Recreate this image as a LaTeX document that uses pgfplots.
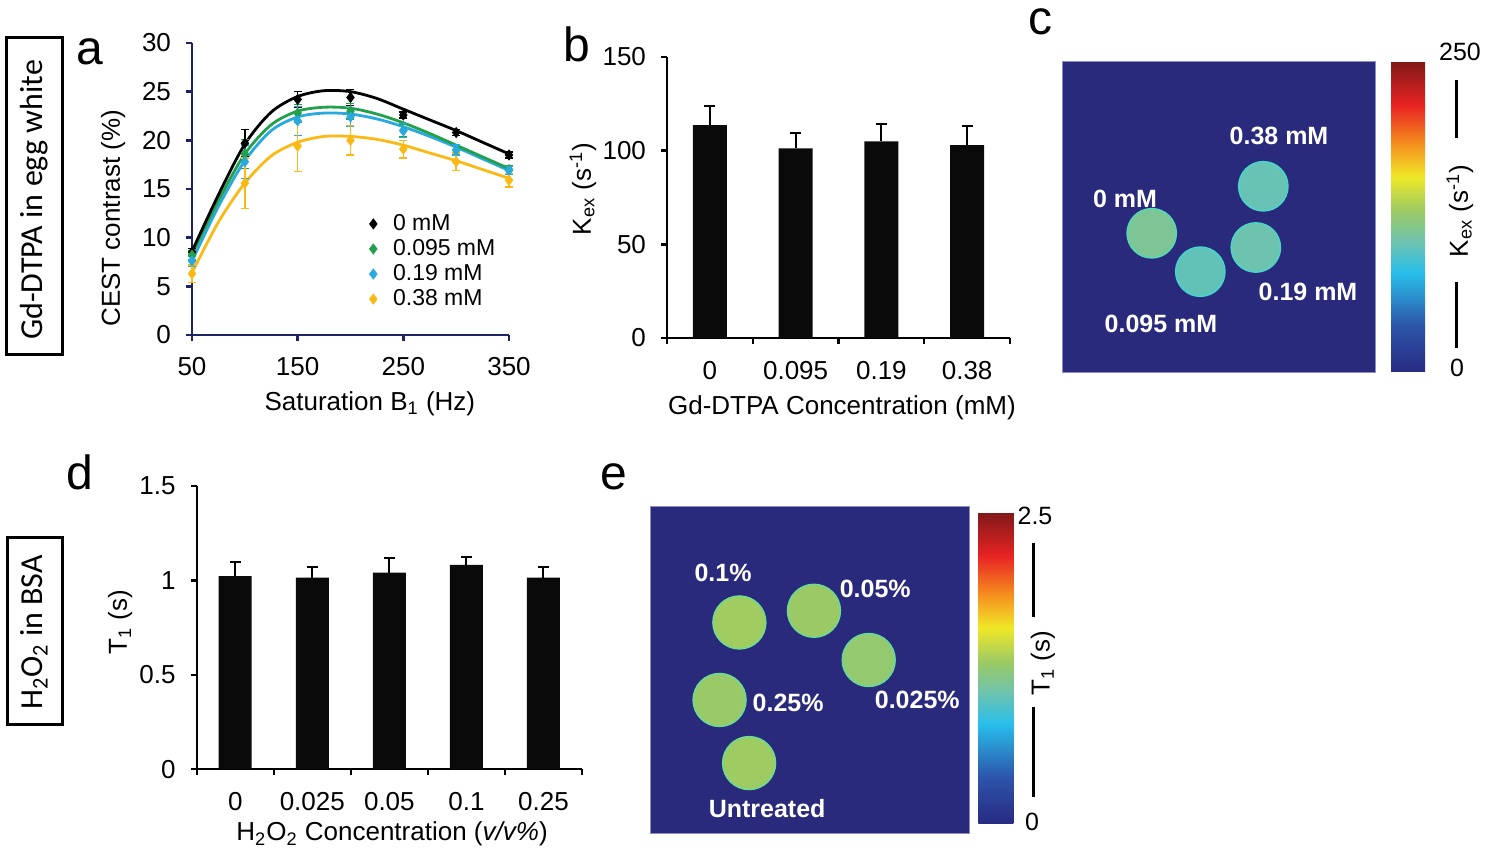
\documentclass[border=0pt]{standalone}
\usepackage{fontspec}
\setmainfont{Liberation Sans}
\newfontfamily\sidefont{Carlito}
\usepackage{pgfplots}
\pgfplotsset{compat=1.18}

\definecolor{navy}{RGB}{30,35,100}
\definecolor{cgreen}{RGB}{35,160,75}
\definecolor{cblue}{RGB}{40,170,225}
\definecolor{cyell}{RGB}{250,185,20}
\definecolor{imgbg}{RGB}{42,42,124}
\definecolor{imgedge}{RGB}{140,140,200}
\definecolor{barblk}{RGB}{10,10,10}

\newcommand\fs{\fontsize{13}{15}\selectfont}

\pgfplotsset{
  colormap={kex}{rgb255(0cm)=(40,42,130) rgb255(15cm)=(45,85,170) rgb255(32cm)=(40,190,235)
    rgb255(42cm)=(110,195,175) rgb255(52cm)=(155,202,100) rgb255(63cm)=(240,232,40)
    rgb255(74cm)=(245,140,30) rgb255(86cm)=(232,35,35) rgb255(100cm)=(130,25,25)},
  panel/.style={
    scale only axis, anchor=south west, enlargelimits=false, clip=false,
    axis lines=left, axis line style={-, line width=1.2pt},
    tick align=outside, major tick length=3pt,
    tick style={line width=1.2pt, black},
    tick label style={font=\fs},
    yticklabel style={xshift=-4pt},
    label style={font=\fs},
    /pgf/number format/assume math mode=true,
  },
  imgpanel/.style={
    scale only axis, anchor=south west, enlargelimits=false,
    axis background/.style={fill=imgbg},
    axis line style={draw=imgedge, line width=0.5pt},
    ticks=none, colormap name=kex,
  },
  barerr/.style={error bars/.cd, y dir=plus, y explicit,
    error bar style={draw=black, line width=1pt},
    error mark options={rotate=90, draw=black, line width=1pt, mark size=2.8pt}},
  pterr/.style={only marks, mark=diamond*, mark size=2.5pt, #1,
    error bars/.cd, y dir=both, y explicit,
    error bar style={#1, line width=0.7pt},
    error mark options={rotate=90, #1, line width=0.7pt, mark size=2pt}},
}

\begin{document}
\begin{tikzpicture}
\path[use as bounding box] (0,0) rectangle (744pt,428pt);

% side labels
\draw[line width=1.5pt] (3pt,409pt) rectangle (31pt,250.5pt);
\node[rotate=90, font=\sidefont\fontsize{16}{18}\selectfont] at (17pt,328pt) {Gd-DTPA in egg white};
\draw[line width=1.5pt] (3.5pt,159pt) rectangle (31pt,65.5pt);
\node[rotate=90, font=\sidefont\fontsize{16}{18}\selectfont] at (17pt,111.75pt) {H\textsubscript{2}O\textsubscript{2} in BSA};

% panel letters
\node[anchor=base west, inner sep=0, font=\fontsize{24}{24}\selectfont] at (38pt,395.5pt) {a};
\node[anchor=base west, inner sep=0, font=\fontsize{24}{24}\selectfont] at (281.5pt,397pt) {b};
\node[anchor=base west, inner sep=0, font=\fontsize{24}{24}\selectfont] at (514pt,410.5pt) {c};
\node[anchor=base west, inner sep=0, font=\fontsize{24}{24}\selectfont] at (33pt,183pt) {d};
\node[anchor=base west, inner sep=0, font=\fontsize{24}{24}\selectfont] at (300pt,183pt) {e};

% ---------- a ----------
\begin{axis}[panel, at={(96pt,260.5pt)}, width=158.5pt, height=146pt,
  xmin=50, xmax=350, ymin=0, ymax=30,
  xtick={50,150,250,350}, ytick={0,5,...,30},
  axis line style={-, line width=1.3pt, navy}, tick style={navy, line width=1.3pt},
  xticklabel style={yshift=-4.5pt},
  xlabel={Saturation B\textsubscript{1} (Hz)}, ylabel={CEST contrast (\%)},
  xlabel style={at={(axis description cs:0.561,-0.236)}, anchor=center},
  ylabel style={at={(axis description cs:-0.249,0.40)}, anchor=center},
  legend style={draw=none, fill=none, at={(axis description cs:0.54,0.435)}, anchor=north west,
    font=\fontsize{11.5}{13}\selectfont, row sep=1pt, nodes={inner ysep=1pt},
    /tikz/every odd column/.append style={column sep=6pt}},
  legend cell align=left,
  legend image code/.code={\draw[#1] plot coordinates {(0pt,0pt)};},
]
\addplot[cyell, line width=1.4pt, smooth, forget plot] coordinates {(50,6.4)(75,11.6)(100,15.6)(125,18.4)(150,19.8)(175,20.4)(200,20.4)(225,20.1)(250,19.5)(275,18.7)(300,17.9)(325,17.0)(350,16.1)};
\addplot[cblue, line width=1.4pt, smooth, forget plot] coordinates {(50,7.6)(75,13.2)(100,17.9)(125,21.0)(150,22.4)(175,22.8)(200,22.7)(225,22.2)(250,21.4)(275,20.4)(300,19.3)(325,18.1)(350,16.9)};
\addplot[cgreen, line width=1.4pt, smooth, forget plot] coordinates {(50,8.3)(75,13.8)(100,18.6)(125,21.6)(150,23.0)(175,23.4)(200,23.3)(225,22.7)(250,21.8)(275,20.7)(300,19.5)(325,18.3)(350,17.1)};
\addplot[black, line width=1.4pt, smooth, forget plot] coordinates {(50,8.6)(75,14.4)(100,19.6)(125,22.9)(150,24.5)(175,25.1)(200,25.0)(225,24.3)(250,23.2)(275,22.1)(300,21.0)(325,19.8)(350,18.6)};
\addplot[pterr=black] coordinates {(50,8.5) +- (0,0.4) (100,19.7) +- (0,1.4) (150,24.2) +- (0,0.8) (200,24.4) +- (0,0.8) (250,22.6) +- (0,0.3) (300,20.8) +- (0,0.3) (350,18.5) +- (0,0.3)};
\addplot[pterr=cgreen] coordinates {(50,8.2) +- (0,0.5) (100,18.6) +- (0,1.5) (150,22.8) +- (0,0.9) (200,23.0) +- (0,0.8) (250,21.0) +- (0,0.6) (300,19.0) +- (0,0.5) (350,17.0) +- (0,0.4)};
\addplot[pterr=cblue] coordinates {(50,7.6) +- (0,0.5) (100,17.8) +- (0,1.7) (150,22.0) +- (0,1.5) (200,22.4) +- (0,1.0) (250,21.0) +- (0,0.7) (300,19.0) +- (0,0.5) (350,16.9) +- (0,0.4)};
\addplot[pterr=cyell] coordinates {(50,6.3) +- (0,0.9) (100,15.6) +- (0,2.6) (150,19.4) +- (0,2.6) (200,20.0) +- (0,1.5) (250,19.1) +- (0,0.9) (300,17.8) +- (0,0.9) (350,15.9) +- (0,0.7)};
\legend{0 mM, 0.095 mM, 0.19 mM, 0.38 mM}
\end{axis}

% ---------- b ----------
\begin{axis}[panel, at={(333.5pt,259pt)}, width=171.5pt, height=140.5pt,
  xmin=0, xmax=4, ymin=0, ymax=150, ytick={0,50,100,150},
  xtick={0,1,2,3,4}, xticklabels={},
  extra x ticks={0.5,1.5,2.5,3.5}, extra x tick labels={0,0.095,0.19,0.38},
  extra x tick style={major tick length=0pt},
  xticklabel style={yshift=-8pt},
  xlabel={Gd-DTPA Concentration (mM)}, ylabel={K\textsubscript{ex} (s\textsuperscript{-1})},
  xlabel style={at={(axis description cs:0.510,-0.249)}, anchor=center},
  ylabel style={at={(axis description cs:-0.245,0.530)}, anchor=center},
]
\addplot[ybar, bar width=17pt, fill=barblk, draw=none, barerr] coordinates {(0.5,113.6) +- (0,10.3) (1.5,101.2) +- (0,8.3) (2.5,104.9) +- (0,9.4) (3.5,103.0) +- (0,10.3)};
\end{axis}

% ---------- c ----------
\begin{axis}[imgpanel, at={(531pt,241.5pt)}, width=156.5pt, height=155.5pt,
  xmin=0, xmax=313, ymin=0, ymax=311,
  point meta min=0, point meta max=250,
  colorbar, colorbar/width=17pt,
  colorbar style={at={(parent axis.north east)}, anchor=north west, xshift=-0.5pt,
    height=155pt, scale only axis, ytick=\empty, xtick=\empty, axis line style={draw=none}},
]
\addplot[scatter, only marks, mark=*, mark size=12.3pt, point meta=explicit,
  scatter/use mapped color={draw=mapped color!70!cyan, fill=mapped color, line width=0.8pt}]
  coordinates {(89.7,139.7) [113.6] (138.3,101.3) [101.2] (193.8,125.5) [104.9] (201.3,186.7) [103.0]};
\node[text=white, font=\fontsize{12.5}{14}\selectfont\bfseries] at (axis cs:63,174) {0 mM};
\node[text=white, font=\fontsize{12.5}{14}\selectfont\bfseries] at (axis cs:217,237) {0.38 mM};
\node[text=white, font=\fontsize{12.5}{14}\selectfont\bfseries] at (axis cs:246,81) {0.19 mM};
\node[text=white, font=\fontsize{12.5}{14}\selectfont\bfseries] at (axis cs:99,49) {0.095 mM};
\end{axis}
\node[font=\fontsize{12.5}{14}\selectfont] at (730pt,402pt) {250};
\node[font=\fontsize{12.5}{14}\selectfont] at (728.5pt,244pt) {0};
\draw[line width=1.5pt] (728.35pt,388pt) -- (728.35pt,359pt);
\draw[line width=1.5pt] (728.35pt,287pt) -- (728.35pt,254pt);
\node[rotate=90, font=\fs] at (730pt,322.5pt) {K\textsubscript{ex} (s\textsuperscript{-1})};

% ---------- d ----------
\begin{axis}[panel, at={(98.35pt,43.35pt)}, width=192.65pt, height=141.65pt,
  xmin=0, xmax=5, ymin=0, ymax=1.5, ytick={0,0.5,1,1.5},
  xtick={0,1,2,3,4,5}, xticklabels={},
  extra x ticks={0.5,1.5,2.5,3.5,4.5}, extra x tick labels={0,0.025,0.05,0.1,0.25},
  extra x tick style={major tick length=0pt},
  xticklabel style={yshift=-8pt},
  xlabel={H\textsubscript{2}O\textsubscript{2} Concentration (\textit{v/v\%})}, ylabel={T\textsubscript{1} (s)},
  xlabel style={at={(axis description cs:0.507,-0.228)}, anchor=center},
  ylabel style={at={(axis description cs:-0.199,0.52)}, anchor=center},
]
\addplot[ybar, bar width=16.5pt, fill=barblk, draw=none, barerr] coordinates {(0.5,1.023) +- (0,0.076) (1.5,1.015) +- (0,0.054) (2.5,1.041) +- (0,0.076) (3.5,1.082) +- (0,0.044) (4.5,1.015) +- (0,0.054)};
\end{axis}

% ---------- e ----------
\begin{axis}[imgpanel, at={(325pt,11.35pt)}, width=159.65pt, height=163.3pt,
  xmin=0, xmax=319, ymin=0, ymax=327,
  point meta min=0, point meta max=2.5,
  colorbar, colorbar/width=17.5pt,
  colorbar style={at={(parent axis.north east)}, anchor=north west, xshift=-4pt, yshift=-3pt,
    height=155.5pt, scale only axis, ytick=\empty, xtick=\empty, axis line style={draw=none}},
]
\addplot[scatter, only marks, mark=*, mark size=13.2pt, point meta=explicit,
  scatter/use mapped color={draw=mapped color!70!cyan, fill=mapped color, line width=0.8pt}]
  coordinates {(89.3,211.1) [1.32] (163.8,222.8) [1.30] (218.5,173.5) [1.26] (69.5,133.5) [1.29] (99,70.3) [1.31]};
\node[text=white, font=\fontsize{12.5}{14}\selectfont\bfseries] at (axis cs:73,261) {0.1\%};
\node[text=white, font=\fontsize{12.5}{14}\selectfont\bfseries] at (axis cs:225,245) {0.05\%};
\node[text=white, font=\fontsize{12.5}{14}\selectfont\bfseries] at (axis cs:267,134) {0.025\%};
\node[text=white, font=\fontsize{12.5}{14}\selectfont\bfseries] at (axis cs:138,131) {0.25\%};
\node[text=white, font=\fontsize{12.5}{14}\selectfont\bfseries] at (axis cs:117,25) {Untreated};
\end{axis}
\node[font=\fontsize{12.5}{14}\selectfont] at (517.5pt,170pt) {2.5};
\node[font=\fontsize{12.5}{14}\selectfont] at (516pt,17pt) {0};
\draw[line width=1.5pt] (516.5pt,156.5pt) -- (516.5pt,119.5pt);
\draw[line width=1.5pt] (516.5pt,74.5pt) -- (516.5pt,29.5pt);
\node[rotate=90, font=\fs] at (521.5pt,96.5pt) {T\textsubscript{1} (s)};
\end{tikzpicture}
\end{document}
